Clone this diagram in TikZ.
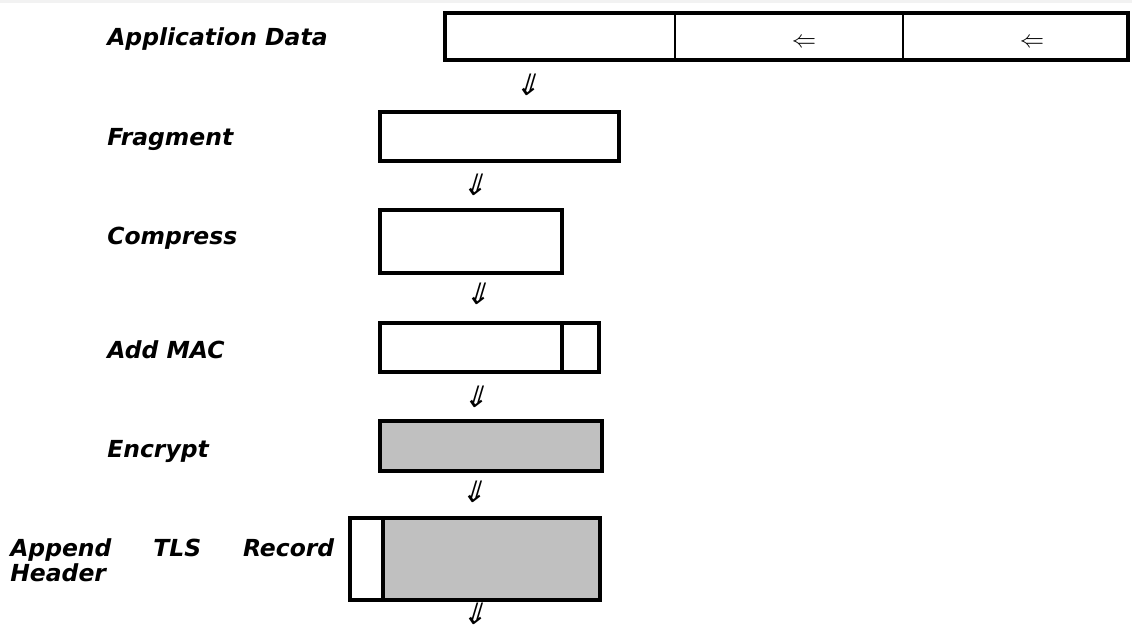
\documentclass[tikz,border=0pt]{standalone}
\usepackage{fontspec}
\setmainfont{DejaVu Sans}
\definecolor{cellgray}{RGB}{192,192,192}

\tikzset{
  lbl/.style={anchor=base west, inner sep=0pt, font=\fontsize{16.7}{18}\selectfont\bfseries\itshape},
  boxline/.style={line width=2.5pt},
  thinline/.style={line width=1pt},
  dnarrow/.style={xslant=0.3, inner sep=0pt, font=\fontsize{21}{21}\selectfont},
  lfarrow/.style={inner sep=0pt, font=\fontsize{16}{16}\selectfont}
}

\begin{document}
\begin{tikzpicture}
\useasboundingbox (0,0) rectangle (28.3,-15.8);
\fill [gray!10] (0,0) rectangle (28.3,-0.075);

% labels
\node[lbl] (lapp) at (2.675,-1.15) {Application Data};
\node[lbl] (lfrag) at (2.675,-3.65) {Fragment};
\node[lbl] (lcomp) at (2.675,-6.125) {Compress};
\node[lbl] (lmac) at (2.675,-8.95) {Add MAC};
\node[lbl] (lenc) at (2.675,-11.425) {Encrypt};
\node[lbl, anchor=north west, text width=8.1cm, align=justify] (lhdr) at (0.25,-13.45) {Append TLS Record Header};

% application data
\draw [thinline] (16.875,-0.325) -- (16.875,-1.5);
\draw [thinline] (22.575,-0.325) -- (22.575,-1.5);
\draw [boxline] (11.125,-0.325) rectangle (28.2,-1.5);
\node[lfarrow] (l1) at (20.1,-1.075) {$\Leftarrow$};
\node[lfarrow] (l2) at (25.8,-1.075) {$\Leftarrow$};

\node[dnarrow] (d1) at (13.25,-2.125) {⇓};

% fragment
\draw [boxline] (9.5,-2.8) rectangle (15.475,-4.025);
\node[dnarrow] (d2) at (11.925,-4.625) {⇓};

% compress
\draw [boxline] (9.5,-5.25) rectangle (14.05,-6.825);
\node[dnarrow] (d3) at (12,-7.35) {⇓};

% add mac
\draw [boxline] (9.5,-8.075) rectangle (14.975,-9.3);
\draw [boxline] (14.05,-8.075) -- (14.05,-9.3);
\node[dnarrow] (d4) at (11.95,-9.925) {⇓};

% encrypt
\draw [boxline, fill=cellgray] (9.5,-10.525) rectangle (15.05,-11.775);
\node[dnarrow] (d5) at (11.9,-12.3) {⇓};

% record header
\fill [cellgray] (9.575,-12.95) rectangle (15.0,-15.0);
\draw [boxline] (8.75,-12.95) rectangle (15.0,-15.0);
\draw [boxline] (9.575,-12.95) -- (9.575,-15.0);
\node[dnarrow] (d6) at (11.925,-15.35) {⇓};
\end{tikzpicture}
\end{document}
